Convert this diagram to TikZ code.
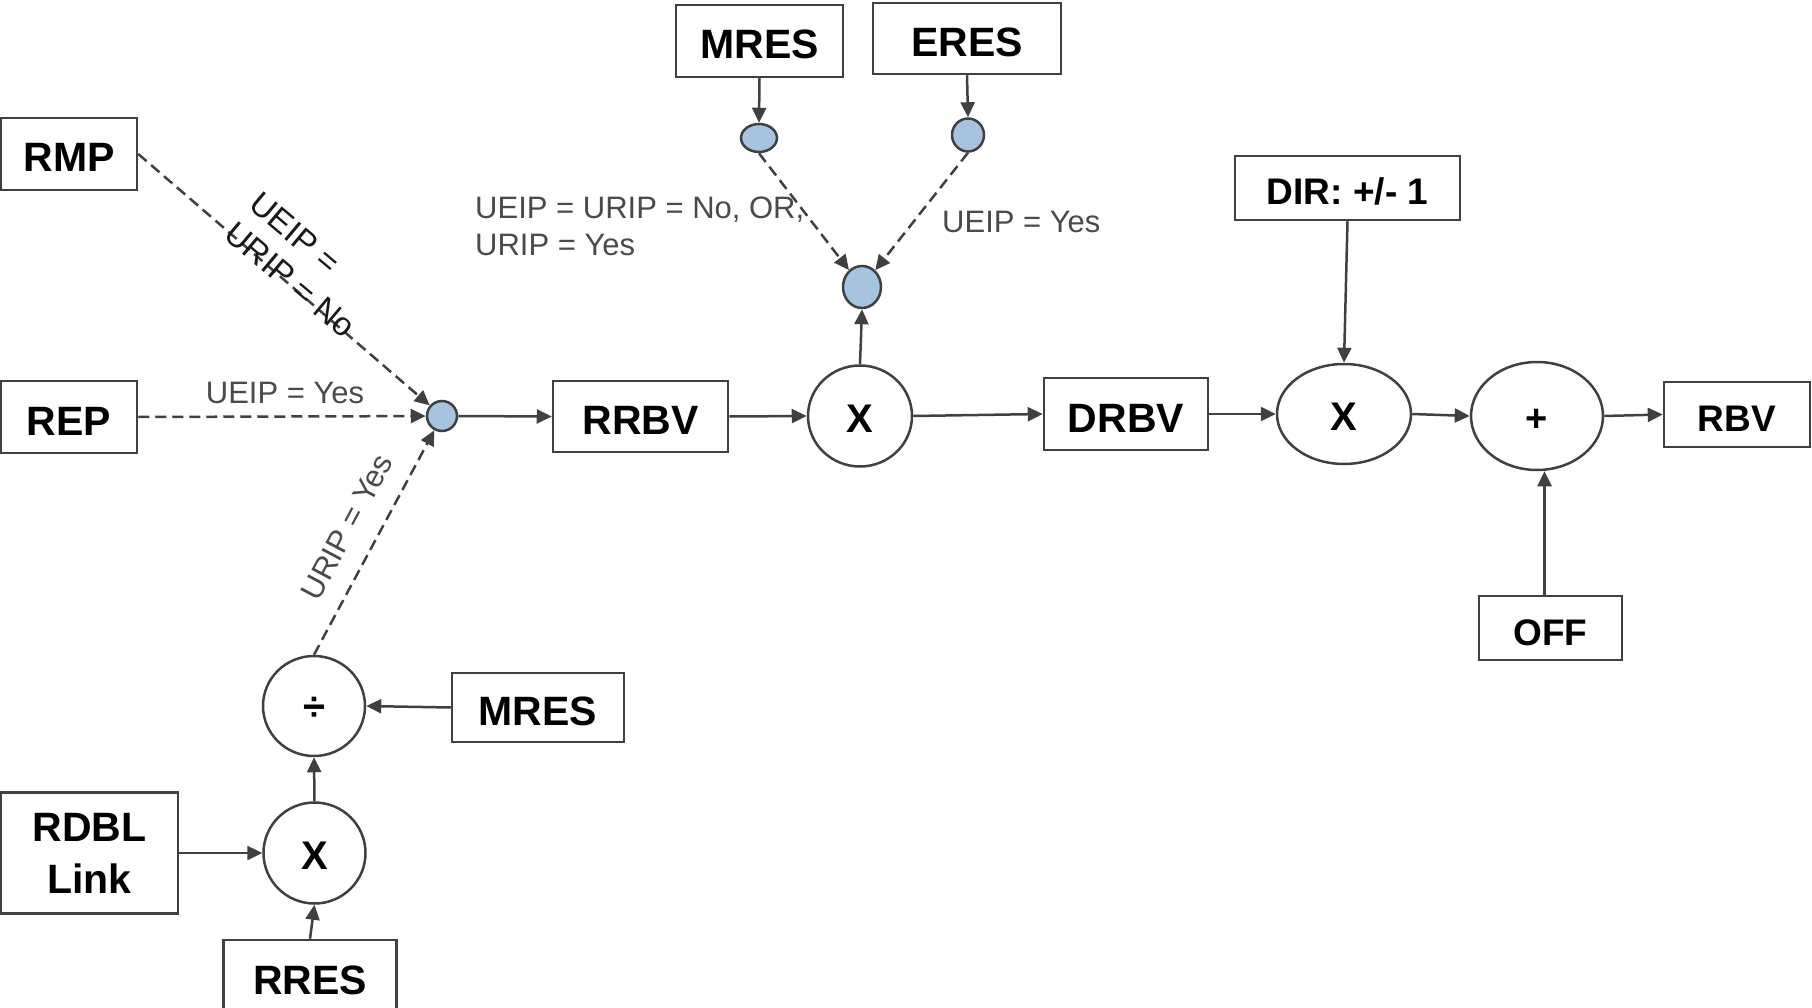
\documentclass[tikz,border=0pt]{standalone}
\usepackage{fontspec}
\setmainfont{Liberation Sans}
\usetikzlibrary{shapes.geometric,arrows.meta}
\definecolor{ink}{HTML}{404040}
\definecolor{dotfill}{HTML}{A6C4DF}
\definecolor{lbl}{HTML}{4A4A4A}
\begin{document}
\begin{tikzpicture}[x=1pt,y=-1pt,
  boxbase/.style={draw=ink, line width=2.5pt, inner sep=0pt, text=black, align=center,
              font=\fontsize{41}{52}\selectfont\bfseries},
  box/.style={boxbase, text height=36pt, text depth=0pt},
  smallbox/.style={boxbase, font=\fontsize{37}{44}\selectfont\bfseries,
              text height=34pt, text depth=0pt},
  op/.style={ellipse, draw=ink, line width=2.5pt, inner sep=0pt, text=black,
             font=\fontsize{40}{48}\selectfont\bfseries, text height=33pt, text depth=0pt},
  dot/.style={ellipse, draw=ink, fill=dotfill, line width=2.5pt, inner sep=0pt},
  arr/.style={draw=ink, line width=2.5pt, -{Triangle[length=15pt,width=14pt]}},
  darr/.style={arr, dash pattern=on 11pt off 6pt},
  cond/.style={text=lbl, inner sep=0pt, font=\fontsize{31}{37}\selectfont},
]
\useasboundingbox (0,0) rectangle (1812,1008);

% input and result boxes
\node[box, minimum width=136pt, minimum height=72pt] (RMP)  at (69,154)    {RMP};
\node[box, minimum width=136pt, minimum height=72pt] (REP)  at (69,417)    {REP};
\node[box, minimum width=175pt, minimum height=71pt] (RRBV) at (640.5,416.5) {RRBV};
\node[box, minimum width=164pt, minimum height=72pt] (DRBV) at (1126,414)  {DRBV};
\node[smallbox, minimum width=146pt, minimum height=65pt] (RBV) at (1737,414.5) {RBV};
\node[smallbox, minimum width=225pt, minimum height=64pt] (DIR) at (1347.5,188) {DIR: +/- 1};
\node[smallbox, minimum width=143pt, minimum height=64pt] (OFF) at (1550.5,628) {OFF};
\node[box, minimum width=167pt, minimum height=72pt] (MREStop) at (759.5,41) {MRES};
\node[box, minimum width=188pt, minimum height=71pt] (ERES) at (967,38.5)  {ERES};
\node[box, minimum width=172pt, minimum height=69pt] (MRESlow) at (538,707.5) {MRES};
\node[boxbase, minimum width=177pt, minimum height=121pt] (RDBL) at (89.5,853) {RDBL\\Link};
\node[box, minimum width=173pt, minimum height=72pt] (RRES) at (310,976)  {RRES};

% junction points
\node[dot, minimum width=30pt, minimum height=30pt] (J) at (442,416) {};
\node[dot, minimum width=36pt, minimum height=28pt] (A) at (759,138) {};
\node[dot, minimum width=32pt, minimum height=33pt] (B) at (968,135) {};
\node[dot, minimum width=38pt, minimum height=42pt] (M) at (862,287) {};

% operators
\node[op, minimum width=104pt, minimum height=101pt] (X1)   at (860,416)  {X};
\node[op, minimum width=134pt, minimum height=100pt] (X2)   at (1344,414) {X};
\node[op, minimum width=132pt, minimum height=108pt, font=\fontsize{38}{46}\selectfont\bfseries, text height=31pt] (PLUS) at (1537,416) {+};
\node[op, minimum width=102pt, minimum height=100pt, text height=28pt] (DIV)  at (314,706)  {÷};
\node[op, minimum width=102pt, minimum height=101pt] (X3)   at (314.5,853) {X};

% conditional (dashed) paths
\draw[darr] (RMP.east) -- (J);
\draw[darr] (REP.east) -- (J);
\draw[darr] (DIV.north) -- (J);
\draw[darr] (A.south) -- (M);
\draw[darr] (B.south) -- (M);

% solid paths
\draw[arr] (J.east) -- (RRBV.west);
\draw[arr] (RRBV.east) -- (X1.west);
\draw[arr] (X1.north) -- (M.south);
\draw[arr] (MREStop.south) -- (A.north);
\draw[arr] (ERES.south) -- (B.north);
\draw[arr] (X1.east) -- (DRBV.west);
\draw[arr] (DRBV.east) -- (X2.west);
\draw[arr] (DIR.south) -- (X2.north);
\draw[arr] (X2.east) -- (PLUS.west);
\draw[arr] ([xshift=-6pt]OFF.north) -- ([xshift=-6pt]OFF.north |- PLUS.south);
\draw[arr] (PLUS.east) -- (RBV.west);
\draw[arr] (MRESlow.west) -- (DIV.east);
\draw[arr] (X3.north) -- (DIV.south);
\draw[arr] (RDBL.east) -- (X3.west);
\draw[arr] (RRES.north) -- (X3.south);

% conditions
\node[cond, anchor=base] (cREP) at (285,403) {UEIP = Yes};
\node[cond, anchor=base west] (cERES) at (942,233) {UEIP = Yes};
\node[cond, anchor=north west, align=left] (cMRES) at (475,197) {UEIP = URIP = No, OR,\\URIP = Yes};
\node[cond, text=black!90, align=left, rotate=-40, font=\fontsize{33}{39}\selectfont] (cRMP) at (303,265) {UEIP =\\URIP = No};
\node[cond, rotate=62] (cDIV) at (347,527) {URIP = Yes};

\end{tikzpicture}
\end{document}
